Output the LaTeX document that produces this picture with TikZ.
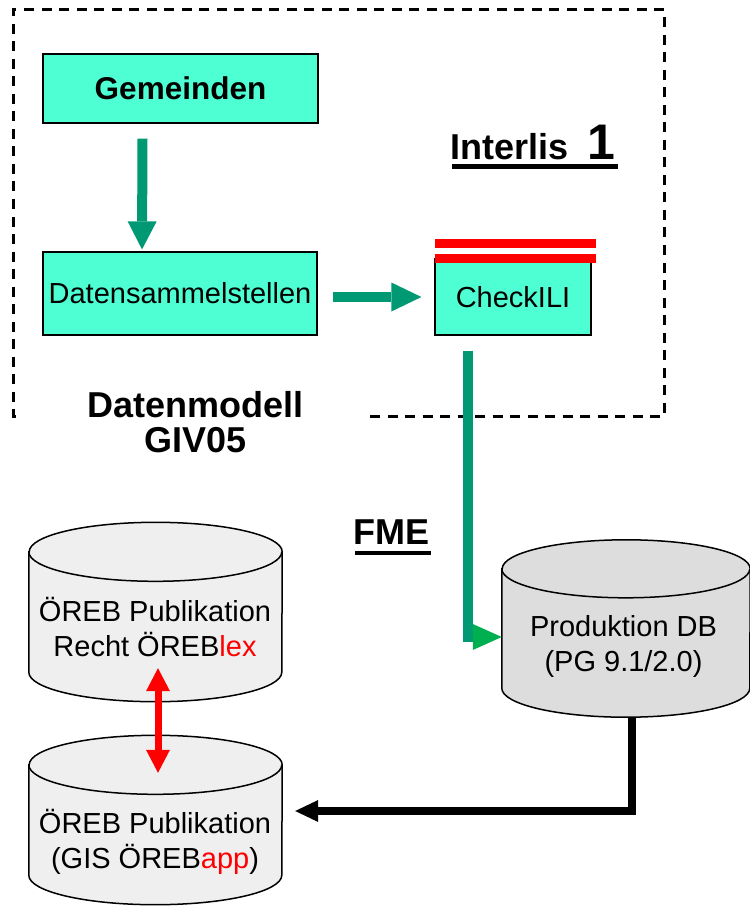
\documentclass[tikz,border=0pt]{standalone}
\usepackage{fontspec}
\setmainfont{Liberation Sans}
\usetikzlibrary{arrows.meta}
\definecolor{aquabox}{RGB}{77,255,210}
\definecolor{flowteal}{RGB}{0,153,115}
\definecolor{flowgreen}{RGB}{0,176,80}
\definecolor{dbgray}{RGB}{221,221,221}
\definecolor{pubgray}{RGB}{239,239,239}
\newcommand{\dbcyl}[4]{%
  \path[draw=black,line width=1.5pt,fill=#4] (#1.north west) -- (#1.south west)
    arc[start angle=180,end angle=360,x radius=#2,y radius=#3] -- (#1.north east)
    arc[start angle=0,end angle=180,x radius=#2,y radius=#3] -- cycle;
  \draw[line width=1.5pt] (#1.north west) arc[start angle=180,end angle=360,x radius=#2,y radius=#3];}
\begin{document}
\begin{tikzpicture}[x=1pt,y=-1pt,
  box/.style={draw=black,line width=1.2pt,fill=aquabox,inner sep=0pt},
  txt/.style={font=\fontsize{29}{35}\selectfont,inner sep=0pt},
  boldtxt/.style={font=\bfseries\fontsize{36}{35}\selectfont,inner sep=0pt},
  body/.style={inner sep=0pt,draw=none},
  tealarrow/.style={draw=flowteal,line width=10pt},
]
\useasboundingbox (0,0) rectangle (749,909);

% dashed frame
\draw[line width=3pt,dash pattern=on 10pt off 7.5pt]
  (370,416) -- (664,416) -- (664,10) -- (13,10) -- (13,416) -- (17,416);

% boxes
\node[box,minimum width=275pt,minimum height=69pt,font=\bfseries\fontsize{31.5}{35}\selectfont] (gem) at (180.5,88.5) {Gemeinden};
\node[box,txt,minimum width=274pt,minimum height=83pt] (dat) at (180,293.5) {Datensammelstellen};
\node[box,txt,minimum width=156pt,minimum height=76pt] (chk) at (513,297) {CheckILI};
\fill[red] ([xshift=1pt,yshift=19pt]chk.north west) rectangle ([xshift=4pt,yshift=10pt]chk.north east);
\fill[red] ([xshift=1pt,yshift=4pt]chk.north west) rectangle ([xshift=4pt,yshift=-5pt]chk.north east);

% titles
\node[boldtxt,anchor=base west] (intl) at (450,160) {Interlis\hspace{19pt}{\fontsize{50}{50}\selectfont 1}};
\draw[line width=5pt] ([xshift=2pt,yshift=-6.5pt]intl.base west) -- ([xshift=3pt,yshift=-6.5pt]intl.base east);
\node[boldtxt,anchor=base west] (fme) at (353,544) {FME};
\draw[line width=4pt] ([xshift=2pt,yshift=-9pt]fme.base west) -- ([xshift=2pt,yshift=-9pt]fme.base east);
\node[boldtxt,align=center,anchor=base] (dm) at (195.5,452) {Datenmodell\\GIV05};

% cylinders
\node[body,minimum width=248pt,minimum height=119pt] (prod) at (626,628.5) {};
\node[body,minimum width=253pt,minimum height=120pt] (pub1) at (155.5,612) {};
\node[body,minimum width=253pt,minimum height=110pt] (pub2) at (155.5,820) {};
\dbcyl{prod}{124pt}{29pt}{dbgray}
\dbcyl{pub1}{126.5pt}{29.5pt}{pubgray}
\dbcyl{pub2}{126.5pt}{29.5pt}{pubgray}
\node[txt,align=center,anchor=base] (prodt) at (623.5,671) {Produktion DB\\(PG 9.1/2.0)};
\node[txt,align=center,anchor=base] (pub1t) at (155,656) {ÖREB Publikation\\Recht ÖREB\textcolor{red}{lex}};
\node[txt,align=center,anchor=base] (pub2t) at (155,868) {ÖREB Publikation\\(GIS ÖREB\textcolor{red}{app})};

% connectors
\draw[tealarrow,-{Triangle[length=28pt,width=29pt,line width=0pt]}]
  ([xshift=-38pt,yshift=-15pt]gem.south) -- ([xshift=-38pt,yshift=2pt]dat.north);
\draw[tealarrow,-{Triangle[length=30pt,width=29pt,line width=0pt]}]
  ([xshift=15pt,yshift=-3.5pt]dat.east) -- ([xshift=-13pt]chk.west);
\draw[tealarrow,-{Triangle[length=29pt,width=26pt,line width=0pt,color=flowgreen]}]
  ([xshift=-45pt,yshift=-15pt]chk.south) |- ([yshift=-8.5pt]prod.west);
\draw[line width=8pt,-{Triangle[length=23pt,width=22pt,line width=0pt]}]
  ([xshift=6pt,yshift=-29pt]prod.south) |- ([xshift=13pt,yshift=9pt]pub2.east);
\draw[red,line width=7pt,{Triangle[length=23pt,width=24pt,line width=0pt]}-{Triangle[length=23pt,width=24pt,line width=0pt]}]
  ([xshift=2.5pt,yshift=4pt]pub1.south) -- ([xshift=2.5pt,yshift=-8pt]pub2.north);
\end{tikzpicture}
\end{document}
